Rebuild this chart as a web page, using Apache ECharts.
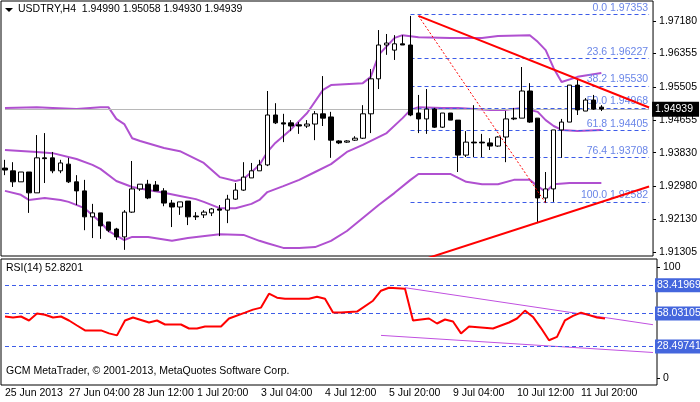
<!DOCTYPE html><html><head><meta charset="utf-8">
<script src="https://cdn.jsdelivr.net/npm/echarts@6/dist/echarts.min.js"></script>
<style>html,body{margin:0;padding:0;background:#fff}#c{width:700px;height:402px}</style></head><body><div id="c"></div>
<script>
// candles: [open, close, low, high]
const candles = [
[1.9344,1.9339,1.9326,1.9365],[1.9337,1.9309,1.9296,1.9359],[1.9309,1.9334,1.9309,1.9334],[1.9334,1.9281,1.9230,1.9334],
[1.9281,1.9370,1.9281,1.9428],[1.9370,1.9368,1.9306,1.9433],[1.9370,1.9337,1.9331,1.9385],[1.9337,1.9357,1.9331,1.9365],
[1.9354,1.9309,1.9306,1.9370],[1.9309,1.9286,1.9250,1.9326],[1.9286,1.9220,1.9186,1.9314],[1.9220,1.9230,1.9166,1.9253],
[1.9230,1.9197,1.9164,1.9230],[1.9207,1.9186,1.9181,1.9207],[1.9189,1.9169,1.9161,1.9192],[1.9169,1.9232,1.9136,1.9237],
[1.9232,1.9291,1.9230,1.9362],[1.9291,1.9303,1.9286,1.9303],[1.9303,1.9268,1.9265,1.9314],[1.9301,1.9286,1.9286,1.9311],
[1.9286,1.9255,1.9247,1.9293],[1.9255,1.9245,1.9194,1.9263],[1.9245,1.9258,1.9225,1.9258],[1.9260,1.9220,1.9199,1.9260],
[1.9222,1.9220,1.9212,1.9232],[1.9225,1.9232,1.9217,1.9237],[1.9230,1.9240,1.9222,1.9242],[1.9240,1.9237,1.9171,1.9250],
[1.9237,1.9265,1.9204,1.9276],[1.9265,1.9288,1.9263,1.9306],[1.9288,1.9321,1.9286,1.9359],[1.9319,1.9337,1.9319,1.9357],
[1.9337,1.9352,1.9337,1.9365],[1.9352,1.9479,1.9349,1.9540],[1.9479,1.9459,1.9456,1.9509],[1.9459,1.9456,1.9410,1.9482],
[1.9459,1.9451,1.9438,1.9466],[1.9454,1.9451,1.9431,1.9461],[1.9451,1.9456,1.9446,1.9466],[1.9456,1.9482,1.9415,1.9489],
[1.9482,1.9471,1.9451,1.9578],[1.9474,1.9415,1.9370,1.9487],[1.9413,1.9408,1.9405,1.9415],[1.9410,1.9413,1.9408,1.9415],
[1.9415,1.9420,1.9413,1.9425],[1.9420,1.9482,1.9418,1.9504],[1.9482,1.9571,1.9433,1.9596],[1.9571,1.9657,1.9545,1.9695],
[1.9657,1.9662,1.9632,1.9685],[1.9644,1.9660,1.9619,1.9682],[1.9660,1.9657,1.9657,1.9682],[1.9657,1.9479,1.9476,1.9731],
[1.9484,1.9469,1.9433,1.9530],[1.9469,1.9494,1.9431,1.9545],[1.9494,1.9448,1.9446,1.9497],[1.9448,1.9484,1.9446,1.9484],
[1.9484,1.9466,1.9466,1.9484],[1.9466,1.9377,1.9334,1.9466],[1.9377,1.9410,1.9372,1.9438],[1.9410,1.9408,1.9372,1.9504],
[1.9410,1.9408,1.9372,1.9431],[1.9408,1.9400,1.9390,1.9420],[1.9400,1.9423,1.9398,1.9425],[1.9423,1.9469,1.9359,1.9489],
[1.9471,1.9469,1.9466,1.9497],[1.9471,1.9540,1.9471,1.9601],[1.9540,1.9461,1.9459,1.9560],[1.9471,1.9268,1.9204,1.9471],
[1.9268,1.9291,1.9255,1.9334],[1.9291,1.9441,1.9258,1.9441],[1.9441,1.9461,1.9370,1.9469],[1.9461,1.9555,1.9461,1.9555],
[1.9555,1.9492,1.9479,1.9571],[1.9489,1.9517,1.9489,1.9522],[1.9517,1.9494,1.9492,1.9530],[1.9499,1.9494,1.9489,1.9504]
];
const upperIdx=[0,4,6,9,12,13,14,15,16,17,20,22,25,27,29,30,31,32,33,34,36,38,40,41,45,46,47,49,50,52,56,60,62,66,67,68,69,70,72,75];
const upperVal=[1.9497,1.9499,1.9497,1.9494,1.9499,1.9499,1.9469,1.9456,1.9420,1.9413,1.9395,1.9387,1.9357,1.9321,1.9311,1.9316,1.9334,1.9352,1.9385,1.9408,1.9443,1.9484,1.9543,1.9555,1.9560,1.9576,1.9632,1.9675,1.9682,1.9677,1.9675,1.9675,1.9680,1.9682,1.9665,1.9644,1.9598,1.9563,1.9576,1.9586];
const midIdx=[0,4,6,9,11,12,14,16,18,20,22,24,25,27,29,31,32,33,35,37,39,41,43,45,48,50,51,52,55,57,61,63,65,67,68,69,70,72,75];
const midVal=[1.9390,1.9385,1.9382,1.9367,1.9352,1.9342,1.9311,1.9296,1.9288,1.9281,1.9273,1.9265,1.9258,1.9242,1.9242,1.9253,1.9263,1.9283,1.9298,1.9314,1.9334,1.9354,1.9385,1.9403,1.9433,1.9471,1.9492,1.9499,1.9497,1.9497,1.9492,1.9492,1.9497,1.9487,1.9466,1.9451,1.9441,1.9438,1.9441];
const lowIdx=[0,2,3,5,7,8,10,12,13,15,16,18,21,23,27,30,32,33,35,37,39,41,43,45,47,49,51,52,56,58,60,62,64,66,67,68,69,71,75];
const lowVal=[1.9286,1.9276,1.9263,1.9268,1.9263,1.9258,1.9242,1.9207,1.9184,1.9161,1.9169,1.9169,1.9159,1.9166,1.9176,1.9174,1.9159,1.9153,1.9141,1.9141,1.9143,1.9159,1.9184,1.9217,1.9250,1.9281,1.9314,1.9329,1.9329,1.9309,1.9303,1.9303,1.9314,1.9314,1.9298,1.9283,1.9303,1.9306,1.9306];
const rsiIdx=[0,1,2,3,4,5,6,7,8,9,10,12,13,14,15,16,18,19,20,22,23,24,25,27,28,30,31,32,33,34,35,38,39,40,41,42,44,46,47,48,50,51,53,54,55,56,57,58,61,63,64,65,66,67,68,69,70,71,72,74,75];
const rsiVal=[55.4,54.5,55.4,51.8,58,57,54.5,55.4,51.8,47.3,42.9,42.9,40.2,38.4,51.8,54.5,50,51.8,48.2,48.2,44.6,44.6,46.4,46.4,53.6,58.9,61.6,63.4,75.9,72.3,71.4,71.4,73.2,71.4,58.9,58.9,59.8,69.6,78.6,81.3,80.4,51.8,53.6,49.1,52.7,50.9,40.2,46.4,44.6,50,53.6,60.7,55,45,34,37,52,56,58.9,54.5,53.6];
const tickLabels=["25 Jun 2013","27 Jun 04:00","28 Jun 12:00","1 Jul 20:00","3 Jul 04:00","4 Jul 12:00","5 Jul 20:00","9 Jul 04:00","10 Jul 12:00","11 Jul 20:00"];
const priceTicks=[1.97180,1.96355,1.95505,1.94655,1.93830,1.92980,1.92130,1.91305];
const fibLevels=[["0.0",1.97353],["23.6",1.96227],["38.2",1.95530],["50.0",1.94968],["61.8",1.94405],["76.4",1.93708],["100.0",1.92582]];
const rsiLevels=[83.41969,58.03105,28.49741];
const lastPrice=1.94939;
const N=82;
const cats=[];for(let i=0;i<N;i++)cats.push(i%8===0&&tickLabels[i/8]?tickLabels[i/8]:'');
const pairs=(a,b)=>a.map((v,i)=>[v,b[i]]);
const F='"Liberation Sans", Arial, sans-serif';
const FS=10.5;
const chart=echarts.init(document.getElementById('c'),null,{renderer:'canvas'});
const band=(idx,val)=>({type:'line',xAxisIndex:0,yAxisIndex:0,data:pairs(idx,val),symbol:'none',smooth:false,lineStyle:{color:'#b050d0',width:2},z:3});
const blue='#3d5ce8';
chart.setOption({animation:false,
grid:[{left:1,top:1,width:656,height:255,show:true,borderColor:'#000',borderWidth:1},
      {left:1,top:259,width:656,height:126,show:true,borderColor:'#000',borderWidth:1}],
xAxis:[{type:'category',gridIndex:0,data:cats,boundaryGap:true,axisLine:{show:false},axisTick:{show:false},axisLabel:{show:false}},
       {type:'category',gridIndex:1,data:cats,boundaryGap:true,axisLine:{show:false},axisTick:{show:false},
        axisLabel:{show:true,interval:0,color:'#000',fontSize:FS,fontFamily:F,align:'left',margin:3}}],
yAxis:[{type:'value',gridIndex:0,position:'right',min:1.91204,max:1.97689,splitLine:{show:false},axisLine:{show:false},
        axisTick:{show:true,customValues:priceTicks,length:3,lineStyle:{color:'#000'}},
        axisLabel:{customValues:priceTicks,formatter:v=>v.toFixed(5),color:'#000',fontSize:FS,fontFamily:F,margin:6}},
       {type:'value',gridIndex:1,position:'right',min:-6.25,max:107.14,splitLine:{show:false},axisLine:{show:false},
        axisTick:{show:true,customValues:[0,100],length:3,lineStyle:{color:'#000'}},
        axisLabel:{customValues:[0,100],color:'#000',fontSize:FS,fontFamily:F,margin:6}}],
series:[
 {type:'candlestick',xAxisIndex:0,yAxisIndex:0,data:candles,barWidth:5,z:5,
  itemStyle:{color:'#fff',color0:'#000',borderColor:'#000',borderColor0:'#000',borderWidth:1},
  markLine:{symbol:'none',silent:true,animation:false,data:[
   [{coord:[0,lastPrice],lineStyle:{color:'#b8b8b8',type:'solid',width:1},label:{show:true,position:'end',formatter:lastPrice.toFixed(5),backgroundColor:'#000',color:'#fff',fontSize:FS,fontFamily:F,padding:[2,6,2,3],distance:3}},{coord:[N-1,lastPrice]}],
   ...fibLevels.map(f=>[{coord:[51,f[1]],lineStyle:{color:blue,type:[4,3],width:1},label:{show:true,position:'insideEndTop',formatter:f[0]+' '+f[1].toFixed(5),color:'#6a86e8',fontSize:FS,fontFamily:F,distance:1}},{coord:[N-1,f[1]]}])
  ]}},
 band(upperIdx,upperVal),band(midIdx,midVal),band(lowIdx,lowVal),
 {type:'line',xAxisIndex:0,yAxisIndex:0,data:[[52,1.9731],[N-1,1.9498]],symbol:'none',lineStyle:{color:'#f00',width:2},z:6},
 {type:'line',xAxisIndex:0,yAxisIndex:0,data:[[53,1.9114],[N-1,1.9297]],symbol:'none',lineStyle:{color:'#f00',width:2},z:6},
 {type:'line',xAxisIndex:0,yAxisIndex:0,data:[[52,1.9731],[68,1.9255]],symbol:'none',lineStyle:{color:'#f00',width:1,type:[2,2]},z:6},
 {type:'line',xAxisIndex:1,yAxisIndex:1,data:pairs(rsiIdx,rsiVal),symbol:'none',lineStyle:{color:'#f00',width:2},z:5,
  markLine:{symbol:'none',silent:true,animation:false,data:rsiLevels.map(v=>[{coord:[0,v],lineStyle:{color:blue,type:[4,3],width:1},label:{show:true,position:'end',formatter:v.toFixed(5),backgroundColor:'#4466dd',color:'#fff',fontSize:FS,fontFamily:F,padding:[2,2,1,2],distance:2}},{coord:[N-1,v]}])}},
 {type:'line',xAxisIndex:1,yAxisIndex:1,data:[[50,81.3],[N-1,48]],symbol:'none',lineStyle:{color:'#c050e0',width:1},z:4},
 {type:'line',xAxisIndex:1,yAxisIndex:1,data:[[47,38.4],[N-1,23]],symbol:'none',lineStyle:{color:'#c050e0',width:1},z:4}
],
graphic:[
 {type:'polygon',shape:{points:[[5,8],[13,8],[9,12]]},style:{fill:'#000'}},
 {type:'text',left:18,top:4,style:{text:'USDTRY,H4  1.94990 1.95058 1.94930 1.94939',fill:'#000',font:FS+'px '+F}},
 {type:'text',left:6,top:263,style:{text:'RSI(14) 52.8201',fill:'#000',font:FS+'px '+F}},
 {type:'text',left:6,top:366,style:{text:'GCM MetaTrader, © 2001-2013, MetaQuotes Software Corp.',fill:'#000',font:FS+'px '+F}}
]});
</script></body></html>
